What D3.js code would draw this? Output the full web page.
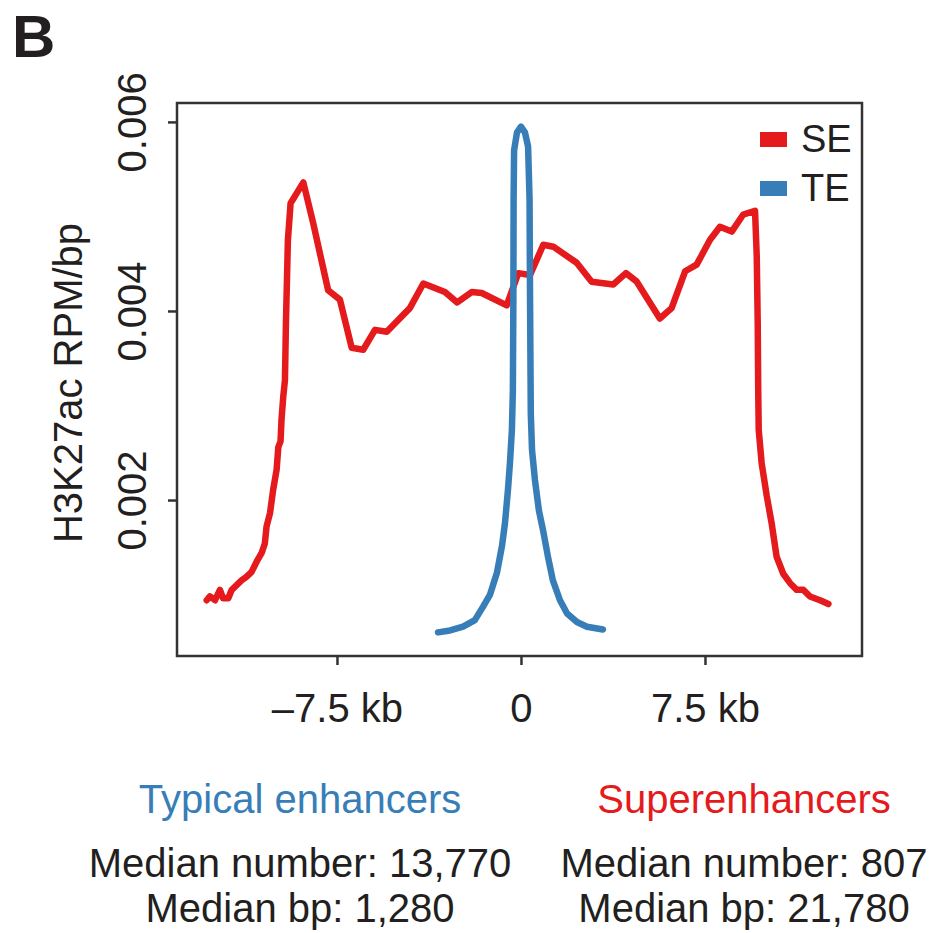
<!DOCTYPE html>
<html>
<head>
<meta charset="utf-8">
<script src="https://cdn.jsdelivr.net/npm/d3@7"></script>
<style>
  html, body { margin: 0; padding: 0; background: #fff; }
  text { font-family: "Liberation Sans", Arial, Helvetica, sans-serif; }
</style>
</head>
<body>
<div id="chart"></div>
<script>
// H3K27ac profile around enhancer centres: super-enhancers (SE) vs typical enhancers (TE)
// position in kb from centre, signal in RPM/bp

const seProfile = [
  [-12.81, 0.00094], [-12.68, 0.00098], [-12.47, 0.00094], [-12.27, 0.00105], [-12.14, 0.00096],
  [-11.93, 0.00096], [-11.79, 0.00105], [-11.59, 0.00110], [-11.39, 0.00115], [-11.18, 0.00119],
  [-10.98, 0.00124], [-10.77, 0.00135], [-10.57, 0.00144], [-10.44, 0.00154], [-10.37, 0.00172],
  [-10.23, 0.00186], [-10.10, 0.00211], [-9.96, 0.00232], [-9.89, 0.00256], [-9.80, 0.00262],
  [-9.76, 0.00285], [-9.69, 0.00309], [-9.62, 0.00327], [-9.58, 0.00387], [-9.50, 0.00475],
  [-9.39, 0.00514], [-8.87, 0.00536], [-8.47, 0.00493], [-7.86, 0.00422], [-7.38, 0.00412],
  [-6.90, 0.00361], [-6.43, 0.00359], [-5.95, 0.00380], [-5.47, 0.00378], [-4.53, 0.00403],
  [-3.98, 0.00429], [-3.10, 0.00420], [-2.60, 0.00409], [-2.01, 0.00420], [-1.60, 0.00419],
  [-0.58, 0.00406], [-0.11, 0.00440], [0.37, 0.00438], [0.91, 0.00470], [1.32, 0.00468],
  [2.27, 0.00451], [2.88, 0.00431], [3.76, 0.00428], [4.28, 0.00440], [4.72, 0.00431],
  [5.66, 0.00392], [6.14, 0.00403], [6.69, 0.00442], [7.16, 0.00449], [7.70, 0.00475],
  [8.11, 0.00489], [8.59, 0.00484], [9.06, 0.00502], [9.54, 0.00506], [9.61, 0.00458],
  [9.65, 0.00387], [9.67, 0.00316], [9.69, 0.00274], [9.81, 0.00239], [10.02, 0.00204],
  [10.22, 0.00175], [10.42, 0.00140], [10.69, 0.00122], [10.97, 0.00112], [11.24, 0.00105],
  [11.51, 0.00105], [11.78, 0.00098], [12.19, 0.00094], [12.53, 0.00090]
];

const teProfile = [
  [-3.38, 0.00060], [-2.89, 0.00062], [-2.36, 0.00066], [-1.88, 0.00073], [-1.55, 0.00087],
  [-1.26, 0.00100], [-0.98, 0.00123], [-0.77, 0.00152], [-0.65, 0.00176], [-0.53, 0.00211],
  [-0.45, 0.00239], [-0.37, 0.00274], [-0.33, 0.00316], [-0.31, 0.00412], [-0.30, 0.00518],
  [-0.28, 0.00570], [-0.16, 0.00589], [0.00, 0.00595], [0.16, 0.00589], [0.29, 0.00574],
  [0.35, 0.00518], [0.37, 0.00412], [0.40, 0.00292], [0.45, 0.00253], [0.57, 0.00221],
  [0.73, 0.00189], [0.90, 0.00168], [1.10, 0.00140], [1.30, 0.00115], [1.59, 0.00094],
  [1.88, 0.00080], [2.28, 0.00071], [2.69, 0.00066], [3.34, 0.00063]
];

const seriesNames  = ["SE", "TE"];
const seriesColors = ["#e41a1c", "#377eb8"];

const xDomain = [-14.02, 13.9];
const yDomain = [0.00035, 0.0062];
const xTicks = [-7.5, 0, 7.5];
const xTickLabels = ["\u20137.5 kb", "0", "7.5 kb"];
const yTicks = [0.002, 0.004, 0.006];

const groupTitles = ["Typical enhancers", "Superenhancers"];
const groupLines = [
  ["Median number: 13,770", "Median bp: 1,280"],
  ["Median number: 807", "Median bp: 21,780"]
];

const W = 934, H = 933;
const m = { left: 177, top: 103, right: W - 862, bottom: H - 656 };
const innerW = W - m.left - m.right, innerH = H - m.top - m.bottom;
const FS = 40;

const svg = d3.select("#chart").append("svg").attr("width", W).attr("height", H);

// panel letter
svg.append("text").attr("x", 12).attr("y", 57)
  .attr("font-size", 60).attr("font-weight", 700).attr("fill", "#231f20").text("B");

const g = svg.append("g").attr("transform", `translate(${m.left},${m.top})`);

const x = d3.scaleLinear().domain(xDomain).range([0, innerW]);
const y = d3.scaleLinear().domain(yDomain).range([innerH, 0]);

// axes (ticks only, labels placed by hand for rotation / sizing)
const xAxis = g.append("g").attr("transform", `translate(0,${innerH})`)
  .call(d3.axisBottom(x).tickValues(xTicks).tickSize(9).tickFormat((d, i) => xTickLabels[i]));
xAxis.select(".domain").remove();
xAxis.selectAll("line").attr("stroke", "#333").attr("stroke-width", 2.5);
xAxis.selectAll("text").attr("font-size", FS).attr("fill", "#231f20")
  .attr("y", 0).attr("dy", 0).attr("transform", "translate(0,66)");

const yAxis = g.append("g")
  .call(d3.axisLeft(y).tickValues(yTicks).tickSize(9).tickFormat(d3.format(".3f")));
yAxis.select(".domain").remove();
yAxis.selectAll("line").attr("stroke", "#333").attr("stroke-width", 2.5);
yAxis.selectAll("text").attr("font-size", FS).attr("fill", "#231f20")
  .attr("x", 0).attr("dy", 0).attr("text-anchor", "middle")
  .attr("transform", "translate(-31,0) rotate(-90)");

// frame
g.append("rect").attr("x", 0).attr("y", 0).attr("width", innerW).attr("height", innerH)
  .attr("fill", "none").attr("stroke", "#333").attr("stroke-width", 2.5);

// y label
svg.append("text")
  .attr("transform", `translate(82,${m.top + 280}) rotate(-90)`)
  .attr("text-anchor", "middle").attr("font-size", FS).attr("fill", "#231f20")
  .text("H3K27ac RPM/bp");

// lines
const line = d3.line().x(d => x(d[0])).y(d => y(d[1]));
[seProfile, teProfile].forEach((data, i) => {
  g.append("path").datum(data)
    .attr("fill", "none").attr("stroke", seriesColors[i]).attr("stroke-width", 6.5)
    .attr("stroke-linejoin", "round").attr("stroke-linecap", "round")
    .attr("d", line);
});

// legend
const leg = svg.append("g").attr("transform", "translate(760,132)");
seriesNames.forEach((name, i) => {
  leg.append("rect").attr("x", 0).attr("y", i * 49).attr("width", 27).attr("height", 15)
    .attr("fill", seriesColors[i]);
  leg.append("text").attr("x", 41).attr("y", i * 49 + 20)
    .attr("font-size", 38).attr("fill", "#231f20").text(name);
});

// captions under the chart
const capX = [300, 744];
const capColors = [seriesColors[1], seriesColors[0]];
groupTitles.forEach((t, i) => {
  svg.append("text").attr("x", capX[i]).attr("y", 813).attr("text-anchor", "middle")
    .attr("font-size", FS).attr("fill", capColors[i]).text(t);
  groupLines[i].forEach((s, j) => {
    svg.append("text").attr("x", capX[i]).attr("y", 877 + j * 45).attr("text-anchor", "middle")
      .attr("font-size", FS).attr("fill", "#231f20").text(s);
  });
});
</script>
</body>
</html>
